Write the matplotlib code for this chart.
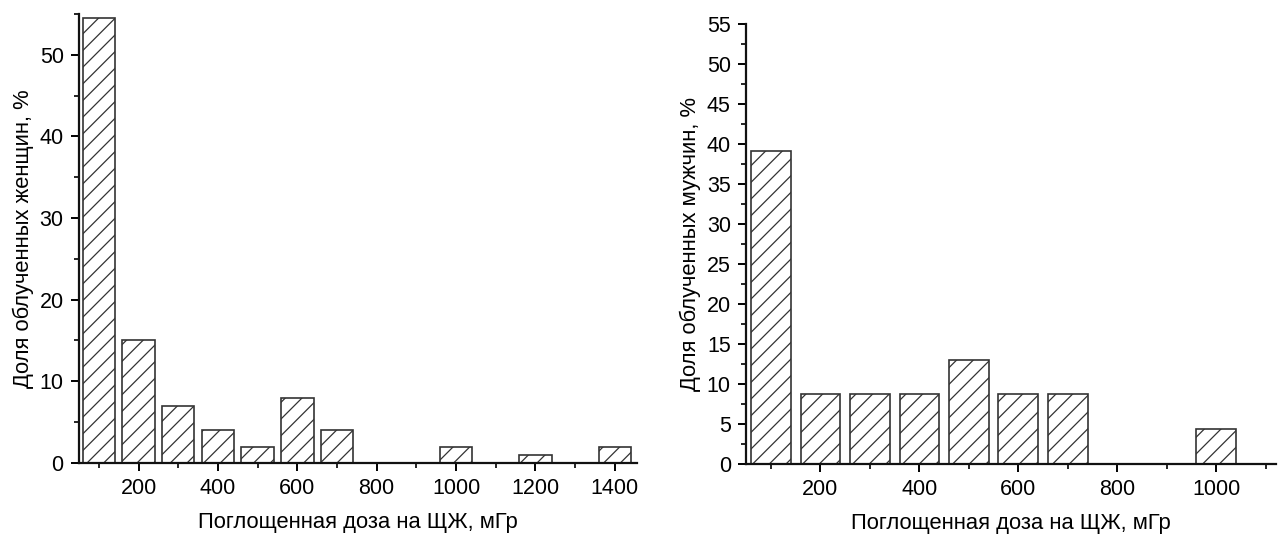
import matplotlib
matplotlib.use("Agg")
import matplotlib.pyplot as plt
from matplotlib.ticker import MultipleLocator

plt.rcParams['font.family'] = ['Liberation Sans', 'DejaVu Sans']
plt.rcParams['hatch.linewidth'] = 0.9

# Data
dose_women = [100, 200, 300, 400, 500, 600, 700, 800, 900, 1000, 1100, 1200, 1300, 1400]
share_women = [54.5, 15.1, 7.0, 4.0, 2.0, 8.0, 4.0, 0, 0, 2.0, 0, 1.0, 0, 2.0]
dose_men = [100, 200, 300, 400, 500, 600, 700, 800, 900, 1000]
share_men = [39.1, 8.7, 8.7, 8.7, 13.0, 8.7, 8.7, 0, 0, 4.35]

xlabel = "Поглощенная доза на ЩЖ, мГр"
ylabel_women = "Доля облученных женщин, %"
ylabel_men = "Доля облученных мужчин, %"

fig = plt.figure(figsize=(12.82, 5.34), dpi=100)
ax1 = fig.add_axes([0.0616, 0.133, 0.435, 0.841])
ax2 = fig.add_axes([0.582, 0.131, 0.413, 0.824])

edge = '#333333'

def style(ax):
    for s in ['top', 'right']:
        ax.spines[s].set_visible(False)
    for s in ['left', 'bottom']:
        ax.spines[s].set_linewidth(1.6)
        ax.spines[s].set_color('#111111')
    ax.tick_params(which='major', direction='out', length=6, width=1.4, labelsize=15.5, pad=5)
    ax.tick_params(which='minor', direction='out', length=3.5, width=1.2)
    ax.set_xlabel(xlabel, fontsize=15.8, labelpad=9)

ax1.bar(dose_women, share_women, width=82, facecolor='white', edgecolor=edge,
        linewidth=1.2, hatch='//')
ax1.set_xlim(50, 1455)
ax1.set_ylim(0, 55)
ax1.xaxis.set_minor_locator(MultipleLocator(100))
ax1.yaxis.set_major_locator(MultipleLocator(10))
ax1.yaxis.set_minor_locator(MultipleLocator(5))
ax1.set_xticks([200, 400, 600, 800, 1000, 1200, 1400])
style(ax1)
ax1.set_ylabel(ylabel_women, fontsize=15.8, labelpad=4)

ax2.bar(dose_men, share_men, width=80, facecolor='white', edgecolor=edge,
        linewidth=1.2, hatch='//')
ax2.set_xlim(50, 1120)
ax2.set_ylim(0, 55)
ax2.set_xticks([200, 400, 600, 800, 1000])
ax2.xaxis.set_minor_locator(MultipleLocator(100))
ax2.yaxis.set_major_locator(MultipleLocator(5))
ax2.yaxis.set_minor_locator(MultipleLocator(2.5))
style(ax2)
ax2.set_ylabel(ylabel_men, fontsize=15.8, labelpad=4)

fig.savefig('out.png', dpi=100)
